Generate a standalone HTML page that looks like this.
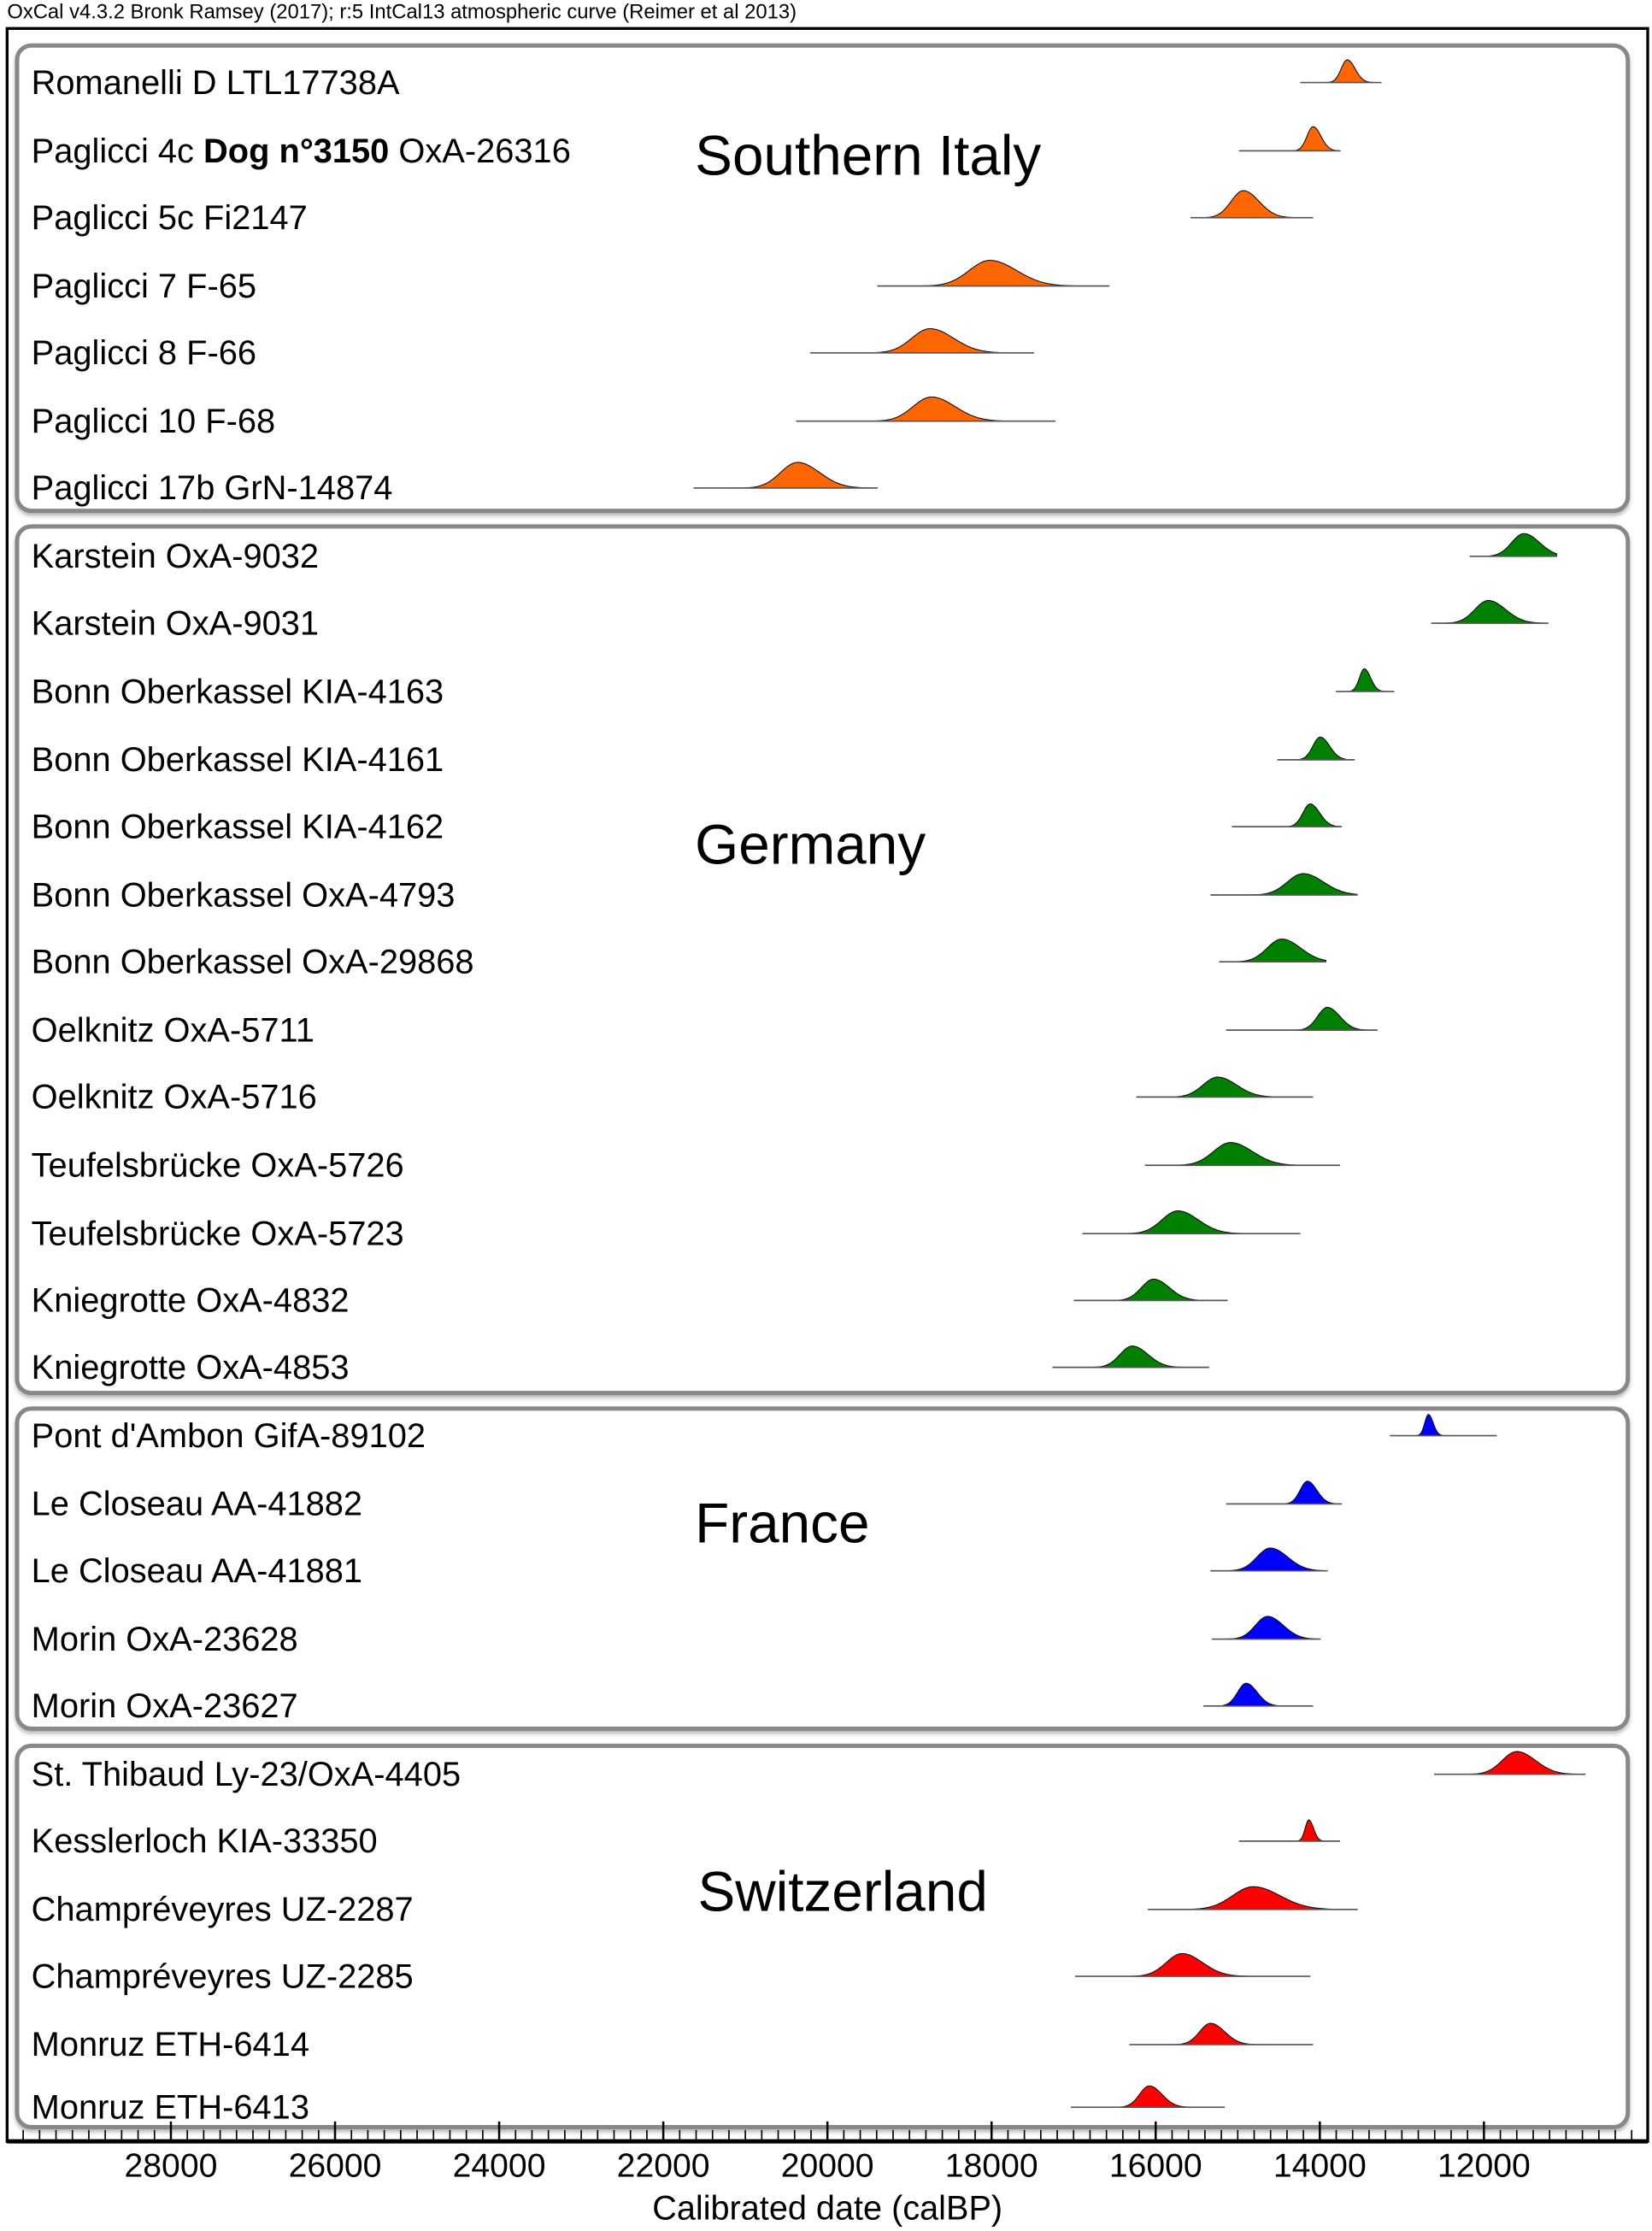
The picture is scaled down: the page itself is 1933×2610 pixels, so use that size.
<!DOCTYPE html>
<html><head><meta charset="utf-8"><style>
html,body{margin:0;padding:0;background:#fff;}
svg{display:block;}
text{font-family:"Liberation Sans",Arial,sans-serif;fill:#000;}
</style></head><body>
<svg id="s" width="1933" height="2610" viewBox="0 0 1160 1568" preserveAspectRatio="none" xmlns="http://www.w3.org/2000/svg">
<defs><filter id="sh" x="-2%" y="-2%" width="104%" height="104%"><feDropShadow dx="0" dy="2" stdDeviation="1.5" flood-color="#999" flood-opacity="0.7"/></filter></defs>
<text x="5" y="13" font-size="14.3">OxCal v4.3.2 Bronk Ramsey (2017); r:5 IntCal13 atmospheric curve (Reimer et al 2013)</text>
<rect x="5" y="20" width="1152" height="1485" fill="none" stroke="#000" stroke-width="2"/>
<line x1="5" y1="1505" x2="1157" y2="1505" stroke="#000" stroke-width="3"/>
<g fill="#fff" stroke="#888" stroke-width="3" filter="url(#sh)">
<rect x="12" y="32" width="1131" height="327" rx="10"/>
<rect x="12" y="370" width="1131" height="609" rx="10"/>
<rect x="12" y="990" width="1131" height="225" rx="10"/>
<rect x="12" y="1227" width="1131" height="268" rx="10"/>
</g>
<g font-size="39.4">
<text x="488" y="123">Southern Italy</text>
<text x="488" y="607">Germany</text>
<text x="488" y="1084">France</text>
<text x="490" y="1343">Switzerland</text>
</g>
<g id="labels" font-size="23.9"></g>
<g id="dists"></g>
<g id="axis"></g>
<text x="581" y="1560" font-size="23.8" text-anchor="middle">Calibrated date (calBP)</text>
</svg>
<script>
var NS="http://www.w3.org/2000/svg";
var O="#ff6600",G="#008000",B="#0000ff",R="#ff0000";
var rows=[
["Romanelli D LTL17738A",58,913,970,946,5,14,O],
["Paglicci 4c <tspan font-weight='bold'>Dog n°3150</tspan> OxA-26316",106,870,941,922,5,15,O],
["Paglicci 5c Fi2147",153,836,922,873,10,17,O],
["Paglicci 7 F-65",201,616,779,695,17,16,O],
["Paglicci 8 F-66",248,569,726,653,15,15,O],
["Paglicci 10 F-68",296,559,741,654,15,15,O],
["Paglicci 17b GrN-14874",343,487,616,560,14,16,O],
["Karstein OxA-9032",391,1032,1093,1070,10,14,G],
["Karstein OxA-9031",438,1005,1087,1045,11,14,G],
["Bonn Oberkassel KIA-4163",486,938,979,958,4,14,G],
["Bonn Oberkassel KIA-4161",534,897,951,927,6,14,G],
["Bonn Oberkassel KIA-4162",581,865,942,920,6,14,G],
["Bonn Oberkassel OxA-4793",629,850,953,915,13,13,G],
["Bonn Oberkassel OxA-29868",676,856,931,900,12,14,G],
["Oelknitz OxA-5711",724,861,967,932,8,14,G],
["Oelknitz OxA-5716",771,798,922,855,12,12,G],
["Teufelsbrücke OxA-5726",819,804,941,864,14,14,G],
["Teufelsbrücke OxA-5723",867,760,913,827,13,14,G],
["Kniegrotte OxA-4832",914,754,862,810,10,13,G],
["Kniegrotte OxA-4853",961,739,849,795,10,13,G],
["Pont d'Ambon GifA-89102",1009,976,1051,1003,3,13,B],
["Le Closeau AA-41882",1057,861,942,918,6,14,B],
["Le Closeau AA-41881",1104,850,932,892,11,14,B],
["Morin OxA-23628",1152,851,927,890,10,14,B],
["Morin OxA-23627",1199,845,922,875,7,14,B],
["St. Thibaud Ly-23/OxA-4405",1247,1007,1113,1065,12,14,R],
["Kesslerloch KIA-33350",1294,870,941,919,3,13,R],
["Champréveyres UZ-2287",1342,806,953,880,17,14,R],
["Champréveyres UZ-2285",1389,755,920,830,13,14,R],
["Monruz ETH-6414",1437,793,922,850,9,13,R],
["Monruz ETH-6413",1481,752,860,807,8,13,R]];
var L=document.getElementById("labels"),D=document.getElementById("dists"),A=document.getElementById("axis");
var h="",d="";
rows.forEach(function(r){
 var y=r[1];
 h+="<text x='22' y='"+(y+8)+"'>"+r[0]+"</text>";
 var p="M"+r[2]+","+y;
 for(var x=r[2];x<=r[3];x+=1){
  var s=r[5]*0.85*(x>r[4]?1.3:1);
  var v=Math.exp(-Math.pow((x-r[4])/s,2)/2);
  p+=" L"+x+","+(y-(r[6]+2)*v).toFixed(2);
 }
 p+=" L"+r[3]+","+y+"Z";
 d+="<path d='"+p+"' fill='"+r[7]+"' stroke='#000' stroke-width='0.6'/>";
 d+="<line x1='"+r[2]+"' y1='"+y+"' x2='"+r[3]+"' y2='"+y+"' stroke='#555' stroke-width='1'/>";
});
L.innerHTML=h;D.innerHTML=d;
var a="";
function X(yr){return 120+(28000-yr)/2000*115.25;}
for(var yr=29800;yr>=10000;yr-=200){
 var x=X(yr); if(x<6||x>1156)continue;
 var maj=yr%2000==0;
 a+="<line x1='"+x+"' y1='1505' x2='"+x+"' y2='"+(maj?1491:1497)+"' stroke='#000' stroke-width='"+(maj?1.5:1)+"'/>";
 if(maj&&yr>=12000&&yr<=28000)a+="<text x='"+x+"' y='1530' font-size='23.5' text-anchor='middle'>"+yr+"</text>";
}
A.innerHTML=a;
</script>
</body></html>
